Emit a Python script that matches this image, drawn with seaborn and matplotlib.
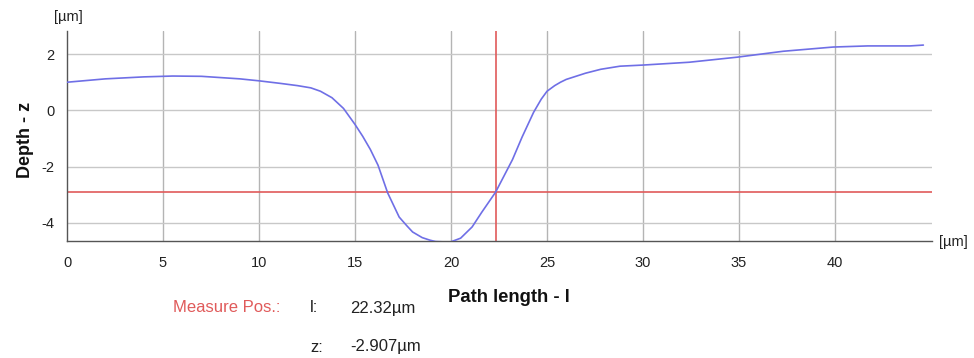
import matplotlib
matplotlib.use("Agg")
import matplotlib.pyplot as plt
import seaborn as sns
import pandas as pd

# Profile data (path length in µm, depth in µm)
path_length = [0.0, 2.0, 4.0, 5.5, 7.0, 9.0, 10.0, 11.1, 12.0, 12.7, 13.2, 13.8, 14.4,
               15.0, 15.4, 15.8, 16.2, 16.7, 17.3, 17.7, 18.0, 18.5, 18.9, 19.2, 19.95,
               20.5, 21.1, 21.6, 22.32, 23.2, 23.7, 24.3, 24.7, 25.0, 25.4, 25.7, 26.0,
               27.0, 27.8, 28.8, 30.0, 32.4, 34.9, 37.3, 39.9, 41.7, 43.9, 44.6]
depth = [1.00, 1.12, 1.19, 1.22, 1.21, 1.12, 1.05, 0.96, 0.88, 0.80, 0.68, 0.45, 0.07,
         -0.50, -0.92, -1.39, -1.95, -2.93, -3.79, -4.10, -4.32, -4.52, -4.61, -4.66, -4.68,
         -4.54, -4.14, -3.62, -2.907, -1.75, -0.95, -0.07, 0.40, 0.68, 0.88, 1.00, 1.10,
         1.32, 1.46, 1.57, 1.61, 1.71, 1.89, 2.10, 2.25, 2.29, 2.29, 2.32]

x_ticks = [0, 5, 10, 15, 20, 25, 30, 35, 40]
y_ticks = [2, 0, -2, -4]
measure_l = 22.32
measure_z = -2.907

sns.set_style("white")
plt.rcParams['font.family'] = ['Liberation Sans', 'DejaVu Sans']

df = pd.DataFrame({"l": path_length, "z": depth})

fig = plt.figure(figsize=(9.74, 3.58), dpi=100)
ax = fig.add_axes([67/974, 1 - 241/358, (932 - 67)/974, (241 - 31)/358])

for xt in x_ticks[1:]:
    ax.axvline(xt, color="#b4b4b4", lw=1.0, zorder=1)
for yt in y_ticks:
    ax.axhline(yt, color="#c8c8c8", lw=1.0, zorder=1)

ax.axhline(measure_z, color="#e05a5a", lw=1.2, zorder=2)
ax.axvline(measure_l, color="#e05a5a", lw=1.2, zorder=2)

sns.lineplot(data=df, x="l", y="z", ax=ax, color="#6f6fe6", lw=1.2, zorder=3)

ax.set_xlim(0, 45.05)
ax.set_ylim(-4.64, 2.82)
ax.set_xticks(x_ticks)
ax.set_yticks(y_ticks)
ax.set_xticklabels([str(v) for v in x_ticks])
ax.set_yticklabels([str(v) for v in y_ticks])
ax.tick_params(axis="both", labelsize=10.5, length=3, width=0.8, color="#555555",
               labelcolor="#222222", pad=8)
ax.tick_params(axis="y", pad=6)

for s in ["top", "right"]:
    ax.spines[s].set_visible(False)
for s in ["left", "bottom"]:
    ax.spines[s].set_color("#555555")
    ax.spines[s].set_linewidth(1.0)

ax.set_xlabel("")
ax.set_ylabel("")

fig.text(25/974, 1 - 140/358, "Depth - z", rotation=90, ha="center", va="center",
         fontsize=13, fontweight="bold", color="#111111")
fig.text(509/974, 1 - 297/358, "Path length - l", ha="center", va="center",
         fontsize=13.3, fontweight="bold", color="#111111")
fig.text(68/974, 1 - 17/358, "[µm]", ha="center", va="center", fontsize=10.5, color="#222222")
fig.text(953/974, 1 - 242/358, "[µm]", ha="center", va="center", fontsize=10.5, color="#222222")

fig.text(280/974, 1 - 308/358, "Measure Pos.:", ha="right", va="center", fontsize=12,
         color="#e05a5a")
fig.text(310/974, 1 - 308/358, "l:", ha="left", va="center", fontsize=12, color="#222222")
fig.text(350/974, 1 - 308/358, f"{measure_l:.2f}µm", ha="left", va="center", fontsize=12,
         color="#222222")
fig.text(310/974, 1 - 347/358, "z:", ha="left", va="center", fontsize=12, color="#222222")
fig.text(350/974, 1 - 347/358, f"{measure_z:.3f}µm", ha="left", va="center", fontsize=12,
         color="#222222")

fig.savefig("out.png", dpi=100)
